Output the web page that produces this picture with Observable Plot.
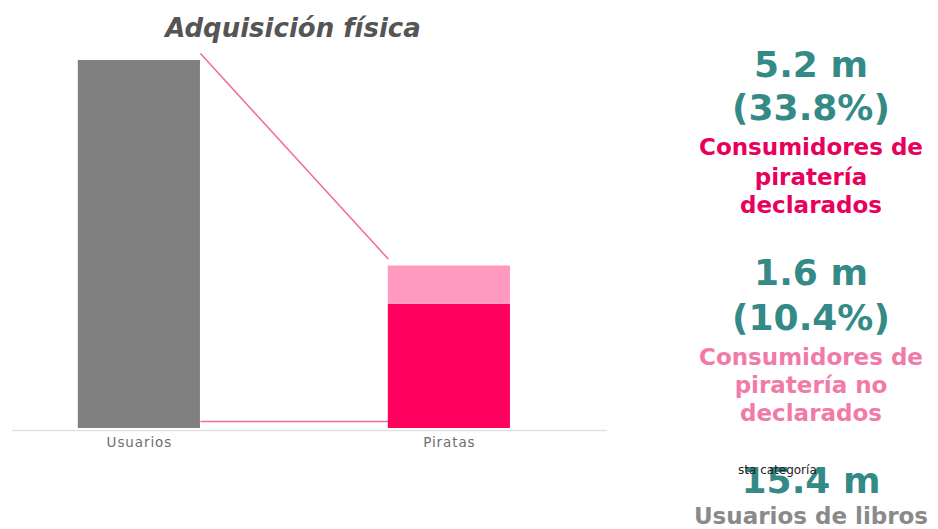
<!DOCTYPE html>
<html>
<head>
<meta charset="utf-8">
<script src="https://cdn.jsdelivr.net/npm/d3@7"></script>
<script src="https://cdn.jsdelivr.net/npm/@observablehq/plot@0.6"></script>
<style>
  body { margin: 0; background: #fff; }
  #wrap { position: relative; width: 938px; height: 529px; overflow: hidden; font-family: "DejaVu Sans", sans-serif; }
  #title { position: absolute; left: 0; width: 586px; top: 13px; line-height: 30px; text-align: center; font: italic bold 26px/30px "DejaVu Sans", sans-serif; color: #555; }
  #chart { position: absolute; left: 0; top: 0; }
  .t { position: absolute; left: 684px; width: 254px; text-align: center; font-weight: bold; white-space: nowrap; }
  .big { font-size: 36px; color: #348a86; }
  .lab { font-size: 23px; }
</style>
</head>
<body>
<div id="wrap">
  <div id="chart"></div>
  <div id="title">Adquisición física</div>
</div>
<script>
// ---- data ----
const categories = ["Usuarios", "Piratas"];
const usuarios = 15.4;        // millones
const declarados = 5.2;       // millones
const noDeclarados = 1.6;     // millones
const pctDeclarados = 33.8;
const pctNoDeclarados = 10.4;

const colors = { usuarios: "#808080", declarados: "#ff005f", noDeclarados: "#ff99c0" };

const segments = [
  { c: 0, y1: 0, y2: usuarios, fill: colors.usuarios },
  { c: 1, y1: 0, y2: declarados, fill: colors.declarados },
  { c: 1, y1: declarados, y2: declarados + noDeclarados, fill: colors.noDeclarados }
];
const hw = 0.197; // half bar width in category units
const links = [
  { x1: 0 + hw, y1: usuarios, x2: 1 - hw, y2: declarados + noDeclarados },
  { x1: 0 + hw, y1: 0, x2: 1 - hw, y2: 0 }
];

const chart = Plot.plot({
  width: 620,
  height: 470,
  marginTop: 60,
  marginBottom: 42,
  marginLeft: 0,
  marginRight: 0,
  x: { domain: [-0.448, 1.552], axis: null },
  y: { domain: [0, usuarios], axis: null },
  style: { fontFamily: "'DejaVu Sans', sans-serif", background: "transparent" },
  marks: [
    Plot.ruleY([0], { stroke: "#e2e2e2", strokeWidth: 1.5, insetLeft: 12, insetRight: 13, dy: 2 }),
    Plot.link(links, { x1: "x1", y1: "y1", x2: "x2", y2: "y2", stroke: "#f06a9a", strokeWidth: 1.5, dy: -7 }),
    Plot.rect(segments, { x1: d => d.c - hw, x2: d => d.c + hw, y1: "y1", y2: "y2", fill: "fill" }),
    Plot.axisX({ ticks: [0, 1], tickFormat: i => categories[i], tickSize: 0, tickPadding: 9, fontSize: 13.5, fill: "#6e6e6e", letterSpacing: "0.9px" })
  ]
});
document.getElementById("chart").appendChild(chart);
chart.querySelectorAll("text").forEach(t => t.setAttribute("letter-spacing", "0.9"));

// ---- right panel ----
const fmt = v => v.toFixed(1);
const lines = [
  { text: fmt(declarados) + " m", y: 65, cls: "big" },
  { text: "(" + fmt(pctDeclarados) + "%)", y: 108, cls: "big" },
  { text: "Consumidores de", y: 147, cls: "lab", color: "#e8005c" },
  { text: "piratería", y: 177, cls: "lab", color: "#e8005c" },
  { text: "declarados", y: 205, cls: "lab", color: "#e8005c" },
  { text: fmt(noDeclarados) + " m", y: 273, cls: "big" },
  { text: "(" + fmt(pctNoDeclarados) + "%)", y: 318, cls: "big" },
  { text: "Consumidores de", y: 357, cls: "lab", color: "#f27aa8" },
  { text: "piratería no", y: 385, cls: "lab", color: "#f27aa8" },
  { text: "declarados", y: 413, cls: "lab", color: "#f27aa8" },
  { text: fmt(usuarios) + " m", y: 481, cls: "big" },
  { text: "Usuarios de libros", y: 516, cls: "lab", color: "#8a8a8a" }
];
const wrap = document.getElementById("wrap");
for (const l of lines) {
  const d = document.createElement("div");
  d.className = "t " + l.cls;
  d.textContent = l.text;
  const lh = l.cls === "big" ? 44 : 28;
  d.style.lineHeight = lh + "px";
  d.style.top = (l.y - lh / 2) + "px";
  if (l.color) d.style.color = l.color;
  wrap.appendChild(d);
}
const note = document.createElement("div");
note.textContent = "sta categoría";
note.style.cssText = "position:absolute;left:738px;top:463px;font:12px 'DejaVu Sans',sans-serif;color:#222;white-space:nowrap;";
wrap.appendChild(note);
</script>
</body>
</html>
